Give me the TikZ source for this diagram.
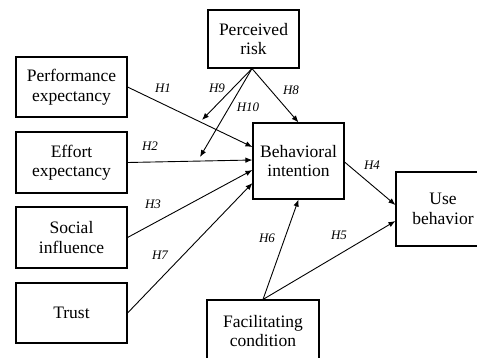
\documentclass[tikz,border=0pt]{standalone}
\usepackage{fontspec}
\setmainfont{Liberation Serif}
\usetikzlibrary{arrows.meta}
\begin{document}
\begin{tikzpicture}[x=1pt,y=-1pt,
  box/.style={draw, line width=1.1pt, inner sep=0pt, align=center,
    font=\fontsize{17.5}{19.5}\selectfont},
  conn/.style={line width=0.9pt, -{Latex[length=7pt,width=5.5pt]}},
  hlab/.style={font=\fontsize{13}{13}\selectfont\itshape, inner sep=0pt}]
\useasboundingbox (0,0) rectangle (477,357);
\clip (0,0) rectangle (477,357);
\fill[white] (0,0) rectangle (477,357);
% nodes
\node[box, minimum width=91pt, minimum height=58pt] (pr) at (253.5,39) {Perceived\\risk};
\node[box, minimum width=111pt, minimum height=60pt] (pe) at (71.5,87) {Performance\\expectancy};
\node[box, minimum width=111pt, minimum height=61pt] (ee) at (71.5,162.5) {Effort\\expectancy};
\node[box, minimum width=111pt, minimum height=61pt] (si) at (71.5,237.5) {Social\\influence};
\node[box, minimum width=111pt, minimum height=60pt] (tr) at (71.5,313) {Trust};
\node[box, minimum width=91pt, minimum height=76pt] (bi) at (298.5,161) {Behavioral\\intention};
\node[box, minimum width=94pt, minimum height=74pt] (ub) at (443,209) {Use\\behavior};
\node[box, minimum width=112pt, minimum height=62pt] (fc) at (263,331) {Facilitating\\condition};
% free ends
\coordinate (h9end) at (202,120);
\coordinate (h10end) at (200,157);
% connectors
\draw[conn] (pe.east) -- ([yshift=14pt]bi.west);
\draw[conn] (ee.east) -- ([yshift=1pt]bi.west);
\draw[conn] (si.east) -- ([yshift=-9pt]bi.west);
\draw[conn] (tr.east) -- ([yshift=-22pt]bi.west);
\draw[conn] ([xshift=-1.5pt]pr.south) -- (h9end);
\draw[conn] ([xshift=-1.5pt]pr.south) -- (h10end);
\draw[conn] ([xshift=-1.5pt]pr.south) -- (bi.north);
\draw[conn] ([yshift=-1pt]bi.east) -- ([yshift=4pt]ub.west);
\draw[conn] (fc.north) -- ([yshift=-12pt]ub.west);
\draw[conn] (fc.north) -- (bi.south);
% labels
\node[hlab] (l1) at (163,88) {H1};
\node[hlab] (l9) at (217,88) {H9};
\node[hlab] (l10) at (248,107) {H10};
\node[hlab] (l8) at (291,90) {H8};
\node[hlab] (l2) at (150,146) {H2};
\node[hlab] (l3) at (153,204) {H3};
\node[hlab] (l7) at (160,255) {H7};
\node[hlab] (l6) at (267,238) {H6};
\node[hlab] (l5) at (339,235) {H5};
\node[hlab] (l4) at (372,165) {H4};
\end{tikzpicture}
\end{document}
